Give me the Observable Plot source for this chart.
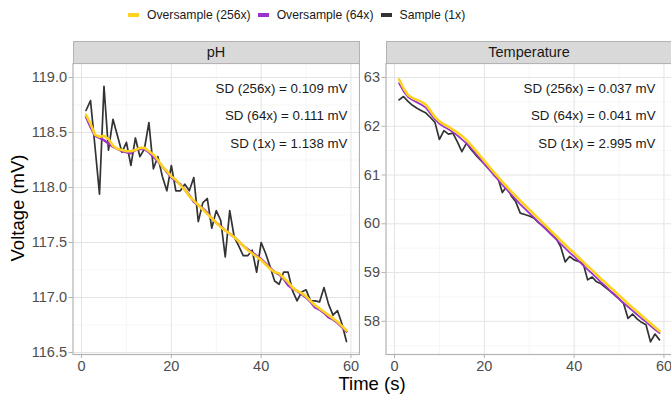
<!DOCTYPE html>
<html><head><meta charset="utf-8">
<script src="https://cdn.jsdelivr.net/npm/d3@7"></script>
<script src="https://cdn.jsdelivr.net/npm/@observablehq/plot@0.6"></script>
<style>
body{margin:0;background:#fff;overflow:hidden}
#wrap{position:relative;width:671px;height:396px;overflow:hidden;font-family:"Liberation Sans",Arial,sans-serif;background:#fff}
.abs{position:absolute}
.strip{position:absolute;box-sizing:border-box;background:#d9d9d9;border:1px solid #b3b3b3;color:#1a1a1a;font-size:14.5px;text-align:center;line-height:20px;height:22.5px}
#legend{position:absolute;left:128px;top:8px;display:flex;align-items:center;font-size:12.2px;color:#1a1a1a;white-space:nowrap}
#legend .sw{width:11px;height:4px;margin-right:8px}
#legend .it{display:flex;align-items:center;margin-right:7px}
</style></head><body><div id="wrap"></div>
<script>
// ---- data ----
const time = [1,2,3,4,5,6,7,8,9,10,11,12,13,14,15,16,17,18,19,20,21,22,23,24,25,26,27,28,29,30,31,32,33,34,35,36,37,38,39,40,41,42,43,44,45,46,47,48,49,50,51,52,53,54,55,56,57,58,59];

const phSample = [118.70,118.79,118.37,117.94,118.92,118.34,118.62,118.47,118.32,118.41,118.20,118.45,118.28,118.35,118.59,118.17,118.28,118.10,117.97,118.20,117.97,117.97,118.03,117.97,118.09,117.69,117.86,117.90,117.63,117.79,117.70,117.37,117.79,117.55,117.47,117.38,117.38,117.43,117.23,117.50,117.40,117.28,117.15,117.12,117.23,117.23,117.06,116.97,117.05,117.07,116.97,116.97,116.96,117.09,116.94,116.84,116.88,116.76,116.60];
const phOver64 = [118.64,118.55,118.47,118.45,118.43,118.40,118.37,118.35,118.33,118.32,118.31,118.34,118.35,118.35,118.32,118.28,118.24,118.19,118.14,118.09,118.06,118.03,117.98,117.93,117.87,117.84,117.81,117.77,117.72,117.68,117.65,117.61,117.58,117.55,117.51,117.47,117.44,117.41,117.38,117.35,117.31,117.27,117.23,117.21,117.17,117.11,117.08,117.06,117.03,117.00,116.96,116.91,116.89,116.86,116.82,116.80,116.77,116.73,116.69];
const phOver256 = [118.66,118.58,118.48,118.46,118.47,118.44,118.38,118.35,118.34,118.33,118.33,118.34,118.36,118.36,118.33,118.30,118.25,118.19,118.15,118.10,118.07,118.02,117.98,117.92,117.88,117.84,117.80,117.76,117.72,117.68,117.64,117.61,117.58,117.55,117.51,117.47,117.43,117.40,117.37,117.34,117.30,117.26,117.23,117.22,117.18,117.14,117.09,117.06,117.04,117.01,116.97,116.93,116.90,116.87,116.84,116.81,116.78,116.74,116.70];

const tempSample = [62.54,62.61,62.51,62.43,62.37,62.32,62.27,62.18,62.08,61.73,61.91,61.84,61.86,61.68,61.48,61.65,61.53,61.42,61.32,61.23,61.13,61.05,60.95,60.64,60.77,60.57,60.45,60.22,60.19,60.16,60.12,60.03,59.96,59.90,59.82,59.70,59.53,59.22,59.33,59.26,59.23,59.19,58.85,58.91,58.81,58.77,58.69,58.62,58.54,58.46,58.37,58.06,58.15,58.05,57.98,57.93,57.58,57.74,57.62];
const tempOver64 = [62.88,62.72,62.60,62.54,62.49,62.44,62.38,62.26,62.14,62.05,61.99,61.94,61.88,61.81,61.73,61.65,61.56,61.45,61.34,61.23,61.12,61.01,60.91,60.80,60.70,60.60,60.50,60.40,60.31,60.22,60.13,60.04,59.95,59.86,59.77,59.68,59.59,59.50,59.41,59.33,59.24,59.15,59.06,58.98,58.89,58.80,58.72,58.63,58.55,58.46,58.38,58.30,58.22,58.14,58.06,57.99,57.91,57.83,57.76];
const tempOver256 = [62.96,62.78,62.64,62.58,62.54,62.50,62.44,62.32,62.19,62.10,62.04,61.99,61.93,61.87,61.80,61.72,61.62,61.51,61.40,61.29,61.18,61.07,60.97,60.86,60.76,60.66,60.57,60.47,60.38,60.29,60.20,60.11,60.02,59.93,59.84,59.75,59.66,59.57,59.48,59.40,59.31,59.22,59.13,59.05,58.96,58.87,58.79,58.70,58.62,58.53,58.45,58.36,58.28,58.20,58.12,58.04,57.96,57.88,57.80];

const panelTitles = ["pH", "Temperature"];
const seriesNames = ["Oversample (256x)", "Oversample (64x)", "Sample (1x)"];
const seriesColors = ["#ffd21f", "#9a32cd", "#333333"];
const phNotes = ["SD (256x) = 0.109 mV", "SD (64x) = 0.111 mV", "SD (1x) = 1.138 mV"];
const tempNotes = ["SD (256x) = 0.037 mV", "SD (64x) = 0.041 mV", "SD (1x) = 2.995 mV"];
const xTicks = [0, 20, 40, 60];
const xMinor = [10, 30, 50];
const phTicks = [116.5, 117.0, 117.5, 118.0, 118.5, 119.0];
const phMinor = [116.75, 117.25, 117.75, 118.25, 118.75];
const tempTicks = [58, 59, 60, 61, 62, 63];
const tempMinor = [57.5, 58.5, 59.5, 60.5, 61.5, 62.5];
const xLabel = "Time (s)";
const yLabel = "Voltage (mV)";

// ---- drawing ----
const wrap = document.getElementById("wrap");
const rows = arr => time.map((t, i) => ({t, v: arr[i]}));

function panel({sample, o64, o256, yDomain, yTicks, yMinor, fmt, notes, left, width, marginLeft, noteDx, w64}) {
  const svg = Plot.plot({
    width, height: 321,
    marginLeft, marginRight: 1, marginTop: 2, marginBottom: 28,
    style: {background: "transparent", fontFamily: "Liberation Sans, Arial, sans-serif"},
    x: {domain: [-1.9, 61.9]},
    y: {domain: yDomain},
    marks: [
      Plot.gridX(xMinor, {stroke: "#f2f2f2", strokeOpacity: 1, strokeWidth: 0.7}),
      Plot.gridY(yMinor, {stroke: "#f2f2f2", strokeOpacity: 1, strokeWidth: 0.7}),
      Plot.gridX(xTicks, {stroke: "#e4e4e4", strokeOpacity: 1, strokeWidth: 1}),
      Plot.gridY(yTicks, {stroke: "#e4e4e4", strokeOpacity: 1, strokeWidth: 1}),
      Plot.line(rows(sample), {x: "t", y: "v", stroke: seriesColors[2], strokeWidth: 1.7}),
      Plot.line(rows(o64), {x: "t", y: "v", stroke: seriesColors[1], strokeWidth: w64}),
      Plot.line(rows(o256), {x: "t", y: "v", stroke: seriesColors[0], strokeWidth: 2.6}),
      Plot.frame({stroke: "#b3b3b3", strokeWidth: 1.2}),
      Plot.text([notes.join("\n")], {text: d => d, frameAnchor: "top-right", textAnchor: "end", lineAnchor: "top", dx: noteDx, dy: 10.5, lineHeight: 2.04, fontSize: 13.3, fill: "#1a1a1a"}),
      Plot.axisX(xTicks, {tickSize: 4, tickPadding: 2, fontSize: 14.5, stroke: "#b3b3b3", fill: "#4d4d4d", label: null}),
      Plot.axisY(yTicks, {tickSize: 4, tickPadding: 2, fontSize: 14.5, stroke: "#b3b3b3", fill: "#4d4d4d", label: null, tickFormat: fmt})
    ]
  });
  svg.style.position = "absolute";
  svg.style.left = left + "px";
  svg.style.top = "61px";
  wrap.appendChild(svg);
}

panel({sample: phSample, o64: phOver64, o256: phOver256, yDomain: [116.482, 119.127], yTicks: phTicks, yMinor: phMinor,
  fmt: d3.format(".1f"), notes: phNotes, left: 0, width: 360, marginLeft: 72.5, noteDx: -12, w64: 2.4});
panel({sample: tempSample, o64: tempOver64, o256: tempOver256, yDomain: [57.32, 63.287], yTicks: tempTicks, yMinor: tempMinor,
  fmt: d3.format("d"), notes: tempNotes, left: 340, width: 333, marginLeft: 45.5, noteDx: -17, w64: 1.8});

// strips
[[72.5, 287, panelTitles[0]], [385.5, 287, panelTitles[1]]].forEach(([l, w, txt]) => {
  const d = document.createElement("div");
  d.className = "strip";
  d.style.left = l + "px"; d.style.top = "41px"; d.style.width = w + "px";
  d.textContent = txt;
  wrap.appendChild(d);
});

// axis titles
const xt = document.createElement("div");
xt.className = "abs";
xt.style.cssText = "position:absolute;left:272px;width:200px;top:373px;text-align:center;font-size:18.5px;color:#000;line-height:22px";
xt.textContent = xLabel;
wrap.appendChild(xt);
const yt = document.createElement("div");
yt.style.cssText = "position:absolute;left:18px;top:208px;font-size:18.5px;color:#000;line-height:22px;white-space:nowrap;transform:translate(-50%,-50%) rotate(-90deg)";
yt.textContent = yLabel;
wrap.appendChild(yt);

// legend
const lg = document.createElement("div");
lg.id = "legend";
seriesNames.forEach((n, i) => {
  const it = document.createElement("div");
  it.className = "it";
  const sw = document.createElement("div");
  sw.className = "sw";
  sw.style.background = seriesColors[i];
  const tx = document.createElement("span");
  tx.textContent = n;
  it.appendChild(sw); it.appendChild(tx);
  lg.appendChild(it);
});
wrap.appendChild(lg);
</script></body></html>
